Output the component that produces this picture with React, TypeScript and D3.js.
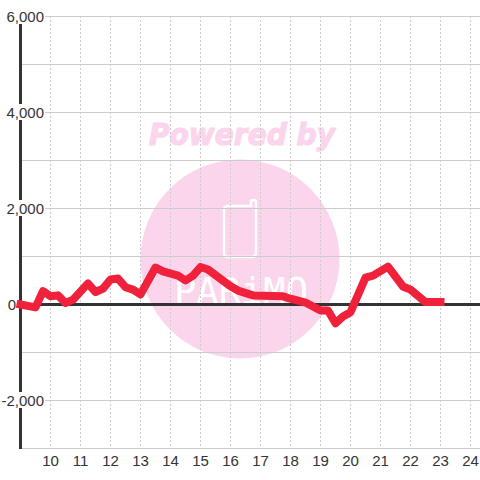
import React from 'react';
import * as d3 from 'd3';

const hours = [9, 9.5, 9.75, 10, 10.25, 10.5, 10.75, 11.25, 11.5, 11.75, 12, 12.25, 12.5, 12.75, 13, 13.5, 13.75, 14.25, 14.5, 14.75, 15, 15.25, 16, 16.25, 16.75, 17.75, 18, 18.5, 19, 19.25, 19.5, 19.75, 20, 20.5, 20.75, 21.25, 21.75, 22, 22.5, 23];
const values = [0, -60, 280, 170, 190, 30, 100, 440, 260, 330, 520, 540, 360, 310, 210, 770, 690, 600, 500, 600, 780, 730, 380, 290, 190, 170, 120, 40, -125, -125, -390, -250, -160, 560, 600, 790, 375, 310, 50, 50];
const hourTicks = [10, 11, 12, 13, 14, 15, 16, 17, 18, 19, 20, 21, 22, 23, 24];
const labelTicks = [6000, 4000, 2000, 0, -2000];
const gridTicks = [6000, 5000, 4000, 3000, 2000, 1000, -1000, -2000, -3000];

const x = d3.scaleLinear().domain([9, 24]).range([20.5, 470.5]);
const y = d3.scaleLinear().domain([6000, -3000]).range([16.5, 448.5]);
const format = d3.format(',');

const line = d3.line<number>()
    .x((_d, i) => x(hours[i]))
    .y(d => y(d));

const App: React.FC = () => {
    return (
        <svg width={480} height={480} style={{ position: 'fixed', left: 0, top: 0, fontFamily: '"Liberation Sans", Arial, sans-serif' }}>
            <rect width={480} height={480} fill="#fff" />

            {/* watermark */}
            <g>
                <text x={242} y={145} textAnchor="middle" fontSize={30} fontWeight="bold" fontStyle="italic" fontFamily='"DejaVu Sans"' fill="#fbd5ec" stroke="#fbd5ec" strokeWidth={1.2} textLength={186} lengthAdjust="spacingAndGlyphs">Powered by</text>
                <circle cx={240} cy={259} r={99.5} fill="#fbd5ec" />
                <path d="M228 206 H251 V202 Q251 200 253.5 200 Q256 200 256 202 V253 Q256 257 252 257 H228 Q224 257 224 253 V210 Q224 206 228 206 Z" fill="none" stroke="#fff" strokeWidth={2.5} />
                <text x={241} y={304} textAnchor="middle" fontSize={38} fontFamily='"DejaVu Sans Mono"' fill="#fff" textLength={134} lengthAdjust="spacingAndGlyphs">PARiMO</text>
            </g>

            {/* grid */}
            {hourTicks.map(h => (
                <line key={h} x1={x(h)} x2={x(h)} y1={16} y2={448} stroke="#ccc" strokeDasharray="2 2" />
            ))}
            {gridTicks.map(v => (
                <line key={v} x1={20} x2={480} y1={y(v)} y2={y(v)} stroke="#ccc" />
            ))}

            {/* axes */}
            <line x1={20.5} x2={20.5} y1={16} y2={449} stroke="#333" strokeWidth={3} />
            <line x1={20} x2={480} y1={y(0)} y2={y(0)} stroke="#333" strokeWidth={3} />

            {labelTicks.map(v => {
                const label = format(v).replace('−', '-');
                if (v === 0) {
                    return <text key={v} x={16} y={y(v) + 5.5} textAnchor="end" fontSize={15} fill="#333">{label}</text>;
                }
                return (
                    <g key={v}>
                        <rect x={45 - label.length * 8} y={y(v) - 8.5} width={label.length * 8} height={16} fill="#fff" />
                        <text x={44} y={y(v) + 5.5} textAnchor="end" fontSize={15} fill="#333">{label}</text>
                    </g>
                );
            })}
            {hourTicks.map(h => (
                <text key={h} x={x(h)} y={466} textAnchor="middle" fontSize={15} fill="#333">{h}</text>
            ))}

            <path d={line(values) ?? ''} fill="none" stroke="#f0213a" strokeWidth={8} strokeLinejoin="round" strokeLinecap="square" />
        </svg>
    );
};

export default App;
